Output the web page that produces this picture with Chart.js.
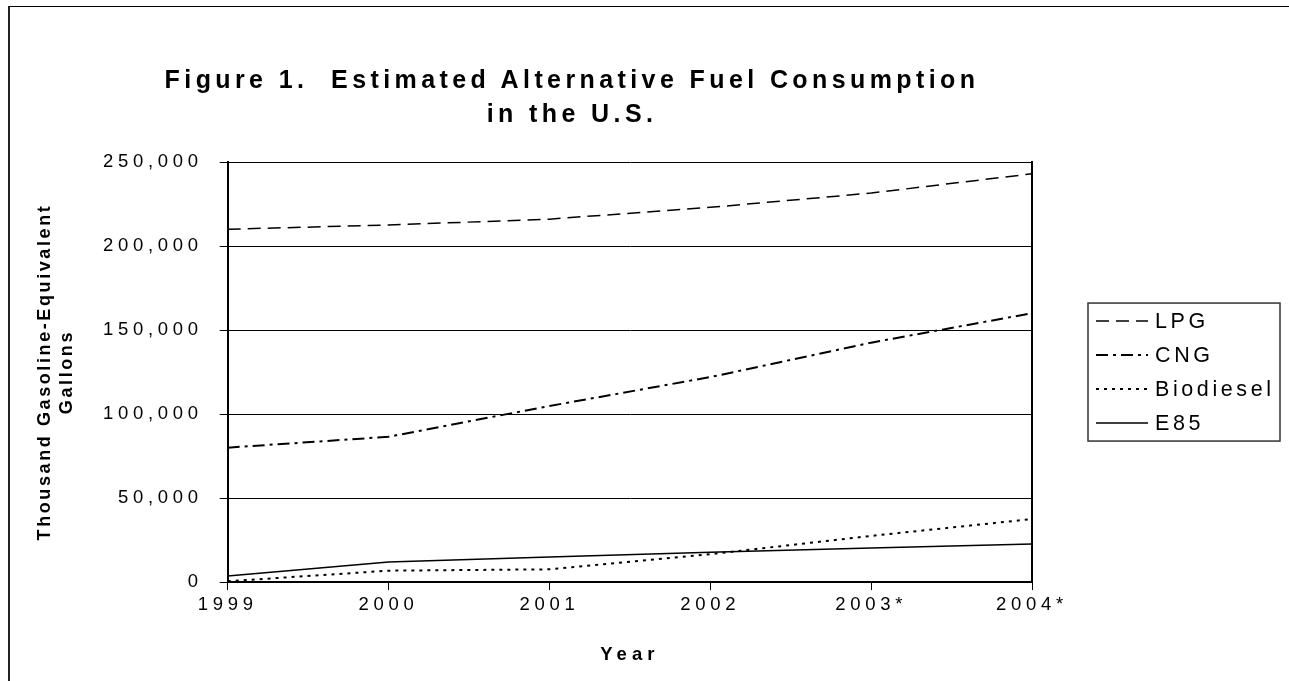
<!DOCTYPE html>
<html>
<head>
<meta charset="utf-8">
<title>Estimated Alternative Fuel Consumption in the U.S.</title>
<script src="https://cdn.jsdelivr.net/npm/chart.js@4/dist/chart.umd.min.js"></script>
<style>
  html, body { margin: 0; padding: 0; background: #fff; overflow: hidden; }
  #wrap { position: relative; width: 1289px; height: 681px; }
  #frame {
    position: absolute; left: 8px; top: 6px; width: 1300px; height: 700px;
    border-left: 2px solid #222; border-top: 1px solid #000; pointer-events: none;
  }
  #title {
    position: absolute; left: 0; top: 62px; width: 1144px;
    text-align: center; white-space: pre;
    font: bold 25px "Liberation Sans", Arial, sans-serif;
    letter-spacing: 4.4px; line-height: 34px; color: #000;
  }
  canvas { position: absolute; left: 0; top: 0; }
</style>
</head>
<body>
<div id="wrap">
  <canvas id="chart" width="1289" height="681"></canvas>
  <div id="title">Figure 1.  Estimated Alternative Fuel Consumption
in the U.S.</div>
  <div id="frame"></div>
</div>
<script>
// Years on the category axis (asterisk marks estimated years)
const years = ['1999', '2000', '2001', '2002', '2003*', '2004*'];

// Thousand gasoline-equivalent gallons per fuel
const lpg       = [210000, 212500, 216000, 223000, 231500, 243000];
const cng       = [80000, 86500, 104800, 122000, 142500, 160000];
const biodiesel = [500, 6800, 7600, 16600, 27500, 37500];
const e85       = [3700, 11900, 14900, 17800, 20300, 22600];

const seriesNames = ['LPG', 'CNG', 'Biodiesel', 'E85'];

// Value axis range
const yMin = 0;
const yMax = 250000;
const yStep = 50000;

const FONT = '"Liberation Sans", Arial, sans-serif';

// Wide-tracked text: spacing per weight and font size used on the canvas
const tracking = { '18.5': '4.7px', 'b18': '2.6px', 'b18.5': '5px', '21.5': '3.6px' };
function trackingFor(font) {
  const m = /(\d+(?:\.\d+)?)px/.exec(font);
  if (!m) return '0px';
  const key = (/bold|700/.test(font) ? 'b' : '') + m[1];
  return tracking[key] || '0px';
}

const canvas = document.getElementById('chart');
const ctx = canvas.getContext('2d');
const nativeFill = ctx.fillText;
const nativeMeasure = ctx.measureText;
ctx.fillText = function (text, x, y, maxWidth) {
  this.letterSpacing = trackingFor(this.font);
  return maxWidth === undefined ? nativeFill.call(this, text, x, y) : nativeFill.call(this, text, x, y, maxWidth);
};
ctx.measureText = function (text) {
  this.letterSpacing = trackingFor(this.font);
  return nativeMeasure.call(this, text);
};

// Right edge of the plot frame
const plotFrame = {
  id: 'plotFrame',
  afterDatasetsDraw(chart) {
    const { ctx, chartArea } = chart;
    ctx.save();
    ctx.strokeStyle = '#000';
    ctx.lineWidth = 2;
    ctx.beginPath();
    ctx.moveTo(chartArea.right, chartArea.top - 1);
    ctx.lineTo(chartArea.right, chartArea.bottom + 1);
    ctx.stroke();
    ctx.restore();
  }
};

// Boxed legend to the right of the plot, line samples drawn with each series' dash
const boxedLegend = {
  id: 'boxedLegend',
  afterDraw(chart, args, opts) {
    const { ctx, chartArea } = chart;
    const sets = chart.data.datasets;
    const left = chartArea.right + opts.gap;
    const height = opts.rowHeight * sets.length + opts.padY * 2;
    const top = (chartArea.top + chartArea.bottom) / 2 - height / 2;
    ctx.save();
    ctx.strokeStyle = '#333';
    ctx.lineWidth = 1.5;
    ctx.strokeRect(left, top, opts.width, height);
    sets.forEach((ds, i) => {
      const cy = top + opts.padY + opts.rowHeight * (i + 0.5);
      ctx.beginPath();
      ctx.setLineDash(ds.borderDash || []);
      ctx.lineWidth = ds.borderWidth;
      ctx.strokeStyle = ds.borderColor;
      ctx.moveTo(left + 8, cy);
      ctx.lineTo(left + 60, cy);
      ctx.stroke();
      ctx.setLineDash([]);
      ctx.fillStyle = '#000';
      ctx.font = '21.5px ' + FONT;
      ctx.textBaseline = 'middle';
      ctx.textAlign = 'left';
      ctx.fillText(ds.label, left + 67, cy + 1);
    });
    ctx.restore();
  }
};

new Chart(ctx, {
  type: 'line',
  data: {
    labels: years,
    datasets: [
      { label: seriesNames[0], data: lpg, borderColor: '#000', borderWidth: 1.5, borderDash: [13, 7] },
      { label: seriesNames[1], data: cng, borderColor: '#000', borderWidth: 2, borderDash: [12, 5, 3, 5] },
      { label: seriesNames[2], data: biodiesel, borderColor: '#000', borderWidth: 2, borderDash: [3, 5] },
      { label: seriesNames[3], data: e85, borderColor: '#000', borderWidth: 1.5 }
    ].map(d => Object.assign(d, { pointRadius: 0, pointHoverRadius: 0, tension: 0, fill: false }))
  },
  options: {
    responsive: false,
    devicePixelRatio: 1,
    animation: false,
    events: [],
    layout: { padding: { top: 162, right: 257, bottom: 11, left: 30 } },
    plugins: {
      legend: { display: false },
      title: { display: false },
      tooltip: { enabled: false },
      boxedLegend: { gap: 56, width: 192, rowHeight: 34, padY: 1 }
    },
    scales: {
      x: {
        type: 'category',
        offset: false,
        grid: { drawOnChartArea: false, drawTicks: true, tickLength: 8, color: '#000', lineWidth: 1, offset: false },
        border: { display: true, color: '#000', width: 2 },
        ticks: { color: '#000', padding: 4, maxRotation: 0, autoSkip: false, font: { family: FONT, size: 18.5 } },
        title: {
          display: true, text: 'Year', color: '#000',
          font: { family: FONT, size: 18.5, weight: 'bold', lineHeight: 1.2 },
          padding: { top: 23.5, bottom: 4 }
        }
      },
      y: {
        min: yMin,
        max: yMax,
        grid: { color: '#000', lineWidth: 1, tickLength: 8, drawTicks: true },
        border: { display: true, color: '#000', width: 2 },
        ticks: {
          stepSize: yStep, color: '#000', padding: 17,
          font: { family: FONT, size: 18.5 },
          callback: v => v.toLocaleString('en-US')
        },
        title: {
          display: true,
          text: ['Thousand Gasoline-Equivalent', 'Gallons'],
          color: '#000',
          font: { family: FONT, size: 18, weight: 'bold', lineHeight: 1.22 },
          padding: { top: 4, bottom: 8 }
        }
      }
    }
  },
  plugins: [plotFrame, boxedLegend]
});
</script>
</body>
</html>
